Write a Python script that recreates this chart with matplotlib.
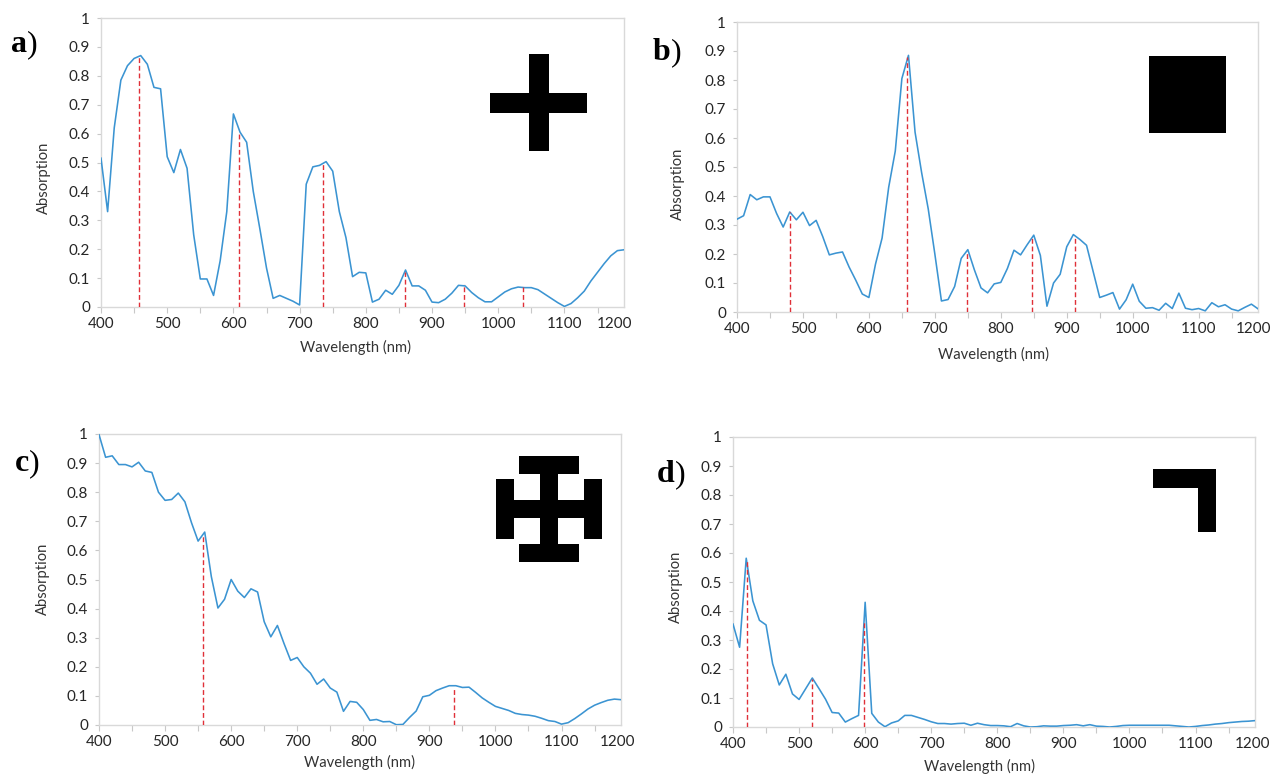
from matplotlib import pyplot as plt
from matplotlib.patches import Polygon, Rectangle

W, H = 1280, 775

wavelengths = list(range(400, 1200, 10))

abs_a = [.515, .33, .62, .785, .835, .86, .87, .84, .76, .755, .52, .465, .545, .48, .25, .097, .097, .04, .16, .33,
         .668, .605, .57, .40, .27, .135, .03, .04, .03, .02, .007, .425, .485, .49, .503, .47, .33, .24, .105, .12,
         .118, .017, .027, .058, .044, .075, .128, .073, .073, .058, .017, .015, .027, .048, .075, .073, .05, .032,
         .018, .018, .035, .052, .063, .069, .067, .067, .06, .045, .03, .015, .002, .012, .032, .055, .09, .12,
         .15, .177, .195, .198]
abs_b = [.32, .332, .405, .387, .397, .397, .34, .293, .345, .318, .344, .298, .316, .26, .197, .203, .207, .155,
         .11, .062, .05, .165, .255, .43, .555, .805, .885, .62, .48, .355, .2, .038, .043, .088, .185, .215, .145,
         .083, .066, .097, .102, .15, .213, .197, .232, .265, .195, .02, .1, .13, .225, .267, .25, .23, .14, .05,
         .058, .067, .01, .042, .096, .037, .013, .015, .006, .03, .012, .065, .013, .008, .012, .004, .032, .018,
         .025, .01, .004, .016, .027, .011]
abs_c = [.998, .92, .925, .895, .895, .887, .903, .873, .868, .8, .772, .775, .797, .767, .695, .632, .663, .51, .402,
         .432, .5, .46, .438, .468, .457, .355, .303, .342, .28, .222, .232, .2, .178, .14, .158, .127, .113, .047,
         .081, .078, .053, .016, .019, .011, .012, .001, .002, .026, .048, .097, .102, .118, .127, .135, .135, .129,
         .13, .112, .093, .078, .064, .057, .05, .04, .036, .034, .03, .023, .015, .012, .003, .008, .022, .038,
         .055, .068, .077, .085, .089, .087]
abs_d = [.355, .275, .582, .435, .368, .352, .218, .145, .182, .114, .095, .132, .169, .133, .096, .05, .048, .017,
         .029, .04, .43, .047, .017, .001, .014, .021, .04, .04, .033, .026, .018, .012, .012, .01, .012, .013, .006,
         .013, .008, .005, .005, .004, .001, .012, .004, 0, .001, .004, .003, .003, .005, .006, .008, .004, .008,
         .003, .002, 0, .002, .005, .006, .006, .006, .006, .006, .006, .006, .004, .002, 0, .002, .005, .007, .01,
         .012, .015, .017, .019, .02, .022]

peaks_a = [458, 609, 736, 859, 949, 1037]
tops_a = [.865, .605, .5, .12, .08, .068]
peaks_b = [481, 657.5, 748, 848, 912]
tops_b = [.345, .88, .21, .26, .26]
peaks_c = [557, 937]
tops_c = [.65, .13]
peaks_d = [421, 519, 599]
tops_d = [.58, .165, .37]

x_ticks = list(range(400, 1200, 50))
x_labels = ['400', '', '500', '', '600', '', '700', '', '800', '', '900', '', '1000', '', '1100', '']
y_ticks = [0, .1, .2, .3, .4, .5, .6, .7, .8, .9, 1]
y_labels = ['0', '0.1', '0.2', '0.3', '0.4', '0.5', '0.6', '0.7', '0.8', '0.9', '1']

plt.rcParams['font.family'] = ['Lato', 'DejaVu Sans']

fig = plt.figure(figsize=(W / 100, H / 100), dpi=100)


def panel(box, values, peaks, tops, letter, letter_xy, last_label, xlabel_xy, ylabel_xy):
    left, right, top, bottom = box
    ax = fig.add_axes([left / W, 1 - bottom / H, (right - left) / W, (bottom - top) / H])
    ax.plot(wavelengths, values, color='#3b94d2', lw=1.15, zorder=3)
    ax.vlines(peaks, 0, tops, color='#e03038', lw=1.0, linestyles=(0, (3.5, 2)), zorder=4)
    ax.set_xlim(400, 1190)
    ax.set_ylim(0, 1)
    ax.set_xticks(x_ticks)
    ax.set_xticklabels(x_labels)
    ax.set_yticks(y_ticks)
    ax.set_yticklabels(y_labels)
    ax.tick_params(axis='both', length=4, width=0.8, color='#c8c8c8', labelsize=11, labelcolor='#262626', pad=3)
    ax.tick_params(axis='y', length=3, pad=5)
    # the last label sits off the tick grid, so it gets a minor tick with no mark
    ax.set_xticks([last_label], ['1200'], minor=True)
    ax.tick_params(axis='x', which='minor', length=0, pad=7, labelsize=11, labelcolor='#262626')
    for spine in ax.spines.values():
        spine.set_color('#d9d9d9')
        spine.set_linewidth(1)
    ax.set_xlabel('Wavelength (nm)', fontsize=10.6, color='#333333')
    ax.set_ylabel('Absorption', fontsize=10.6, color='#333333')
    ax.xaxis.set_label_coords((xlabel_xy[0] - left) / (right - left), -(xlabel_xy[1] - 7 - bottom) / (bottom - top))
    ax.yaxis.set_label_coords((ylabel_xy[0] + 7 - left) / (right - left), (bottom - ylabel_xy[1]) / (bottom - top))
    # letter in bold, closing bracket in regular weight
    txt = fig.text(letter_xy[0] / W, 1 - letter_xy[1] / H, letter, family='Liberation Serif', weight='bold',
                   fontsize=23, color='black', va='baseline')
    fig.canvas.draw()
    ext = txt.get_window_extent()
    fig.text(ext.x1 / W, 1 - letter_xy[1] / H, ')', family='Liberation Serif', fontsize=23, color='black',
             va='baseline')
    return ax


panel((101, 624, 18, 307), abs_a, peaks_a, tops_a, 'a', (11, 52), 1176, (355, 347), (44, 178))
panel((737, 1258, 22, 312), abs_b, peaks_b, tops_b, 'b', (653, 60), 1183, (993, 354), (678, 184))
panel((99, 621, 434, 725), abs_c, peaks_c, tops_c, 'c', (15, 471), 1185, (360, 762), (43, 579))
panel((733, 1255, 437, 727), abs_d, peaks_d, tops_d, 'd', (657, 482), 1186, (979, 766), (676, 587))

# black structure sketches, drawn in pixel coordinates on a full figure overlay
overlay = fig.add_axes([0, 0, 1, 1], facecolor='none')
overlay.set_xlim(0, W)
overlay.set_ylim(H, 0)
overlay.axis('off')

rects = [
    (529, 54, 20, 97), (490, 93, 97, 20),
    (1149, 56, 77, 77),
    (519, 456, 60, 18), (519, 544, 60, 18), (540, 456, 18, 106), (496, 500, 106, 18),
    (496, 479, 18, 60), (584, 479, 18, 60),
]
for x, y, w, h in rects:
    overlay.add_patch(Rectangle((x, y), w, h, color='black', lw=0))
overlay.add_patch(Polygon([(1153, 469), (1216, 469), (1216, 532), (1198, 532), (1198, 488), (1153, 488)],
                          closed=True, color='black', lw=0))

fig.savefig('out.png', dpi=100)
